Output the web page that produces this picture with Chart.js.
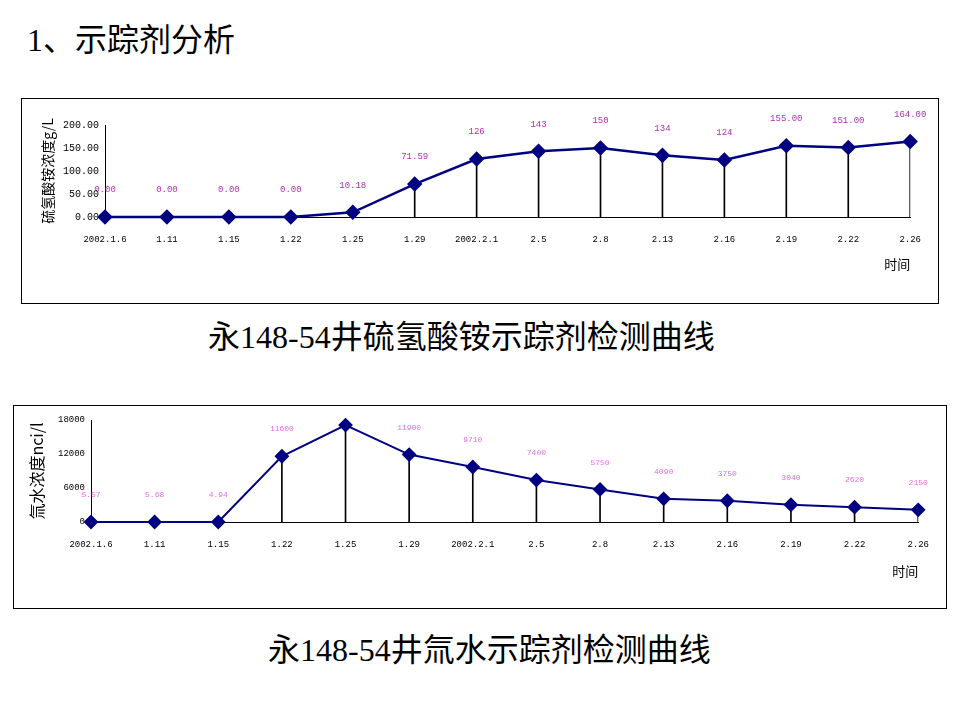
<!DOCTYPE html>
<html>
<head>
<meta charset="utf-8">
<script src="https://cdn.jsdelivr.net/npm/chart.js@4.4.1/dist/chart.umd.min.js"></script>
<style>
  body { margin: 0; width: 960px; height: 720px; background: #fff; position: relative; overflow: hidden;
         font-family: "Liberation Serif", "Noto Sans CJK SC", serif; color: #000; }
  .txt { position: absolute; white-space: nowrap; line-height: 1; }
  .box { position: absolute; border: 1px solid #000; box-sizing: border-box; background: #fff; }
  .box canvas { position: absolute; left: 0; top: 0; }
</style>
</head>
<body>
<div class="txt" style="left:27px; top:24px; font-size:32px;">1、示踪剂分析</div>

<div class="box" style="left:21px; top:98px; width:918px; height:206px;">
  <canvas id="chart1" width="916" height="204"></canvas>
</div>
<div class="txt" style="left:208px; top:321px; font-size:32px;">永148-54井硫氢酸铵示踪剂检测曲线</div>

<div class="box" style="left:13px; top:405px; width:934px; height:204px;">
  <canvas id="chart2" width="932" height="202"></canvas>
</div>
<div class="txt" style="left:268px; top:634px; font-size:32px;">永148-54井氚水示踪剂检测曲线</div>

<script>
// dates of sampling
const dates = ["2002.1.6", "1.11", "1.15", "1.22", "1.25", "1.29", "2002.2.1",
               "2.5", "2.8", "2.13", "2.16", "2.19", "2.22", "2.26"];

// 硫氢酸铵 (g/L)
const nh4scn = [0, 0, 0, 0, 10.18, 71.59, 126, 143, 150, 134, 124, 155, 151, 164];
const nh4scnText = ["0.00", "0.00", "0.00", "0.00", "10.18", "71.59", "126",
                    "143", "150", "134", "124", "155.00", "151.00", "164.00"];
const nh4scnTicks = [0, 50, 100, 150, 200];

// 氚水 (nci/l)
const tritium = [5.57, 5.68, 4.94, 11600, 17100, 11900, 9710, 7400, 5750, 4090, 3750, 3040, 2620, 2150];
const tritiumText = ["5.57", "5.68", "4.94", "11600", "17100", "11900", "9710",
                     "7400", "5750", "4090", "3750", "3040", "2620", "2150"];
const tritiumTicks = [0, 6000, 12000, 18000];

// draws the value text above each point
const pointText = {
    id: "pointText",
    afterDatasetsDraw(chart, args, opts) {
        const ctx = chart.ctx;
        const meta = chart.getDatasetMeta(0);
        ctx.save();
        ctx.fillStyle = opts.color;
        ctx.font = opts.font;
        ctx.textAlign = "center";
        ctx.textBaseline = "middle";
        meta.data.forEach((pt, i) => {
            ctx.fillText(opts.texts[i], pt.x, pt.y - 27);
        });
        ctx.restore();
    }
};

function makeChart(id, values, texts, ticks, cfg) {
    const ctx = document.getElementById(id).getContext("2d");
    return new Chart(ctx, {
        type: "line",
        data: {
            labels: dates,
            datasets: [{
                data: values,
                borderColor: "#000080",
                borderWidth: cfg.lineWidth,
                pointStyle: "rectRot",
                pointRadius: 6,
                pointBackgroundColor: "#000080",
                pointBorderColor: "#000080",
                tension: 0,
                clip: false,
                order: 0
            }, {
                // drop lines from each point to the time axis
                type: "bar",
                data: values,
                backgroundColor: "#000",
                barThickness: 1,
                order: 1
            }]
        },
        options: {
            responsive: false,
            animation: false,
            events: [],
            layout: { padding: { left: 0, right: cfg.right, top: cfg.top, bottom: 0 } },
            plugins: {
                legend: { display: false },
                tooltip: { enabled: false },
                pointText: { texts: texts, color: cfg.labelColor, font: cfg.labelFont }
            },
            scales: {
                x: {
                    offset: false,
                    grid: { display: false, drawTicks: false },
                    border: { display: true, color: "#000", width: 1 },
                    ticks: {
                        autoSkip: false, maxRotation: 0, padding: 17, color: "#000",
                        font: { family: "Liberation Mono", size: 9 }
                    },
                    title: {
                        display: true, text: "时间", align: "end", color: "#000",
                        font: { family: "Noto Sans CJK SC", size: 13 },
                        padding: { top: 0, bottom: cfg.timePad }
                    },
                    afterFit: s => { s.height = 86; }
                },
                y: {
                    min: ticks[0],
                    max: ticks[ticks.length - 1],
                    afterBuildTicks: s => { s.ticks = ticks.map(v => ({ value: v })); },
                    grid: { display: false, drawTicks: false },
                    border: { display: true, color: "#000", width: 1 },
                    ticks: {
                        padding: 6, color: "#000",
                        font: { family: "Liberation Mono", size: cfg.tickSize },
                        callback: v => cfg.decimals ? v.toFixed(2) : String(v)
                    },
                    title: {
                        display: true, text: cfg.yTitle, color: "#000",
                        font: { family: "Noto Sans CJK SC", size: cfg.titleSize },
                        padding: { top: cfg.titlePad, bottom: 0 }
                    },
                    afterFit: s => { s.width = cfg.left; }
                }
            }
        },
        plugins: [pointText]
    });
}

makeChart("chart1", nh4scn, nh4scnText, nh4scnTicks, {
    left: 83, right: 21, top: 26, lineWidth: 2.5, tickSize: 10, decimals: true,
    yTitle: "硫氢酸铵浓度g/L", titleSize: 14, titlePad: 17, timePad: 31,
    labelColor: "#b030b0", labelFont: "9px 'Liberation Mono'"
});

makeChart("chart2", tritium, tritiumText, tritiumTicks, {
    left: 77, right: 21, top: 14, lineWidth: 2, tickSize: 9, decimals: false,
    yTitle: "氚水浓度nci/l", titleSize: 16, titlePad: 13, timePad: 29,
    labelColor: "#e070e0", labelFont: "8px 'Liberation Mono'"
});
</script>
</body>
</html>
